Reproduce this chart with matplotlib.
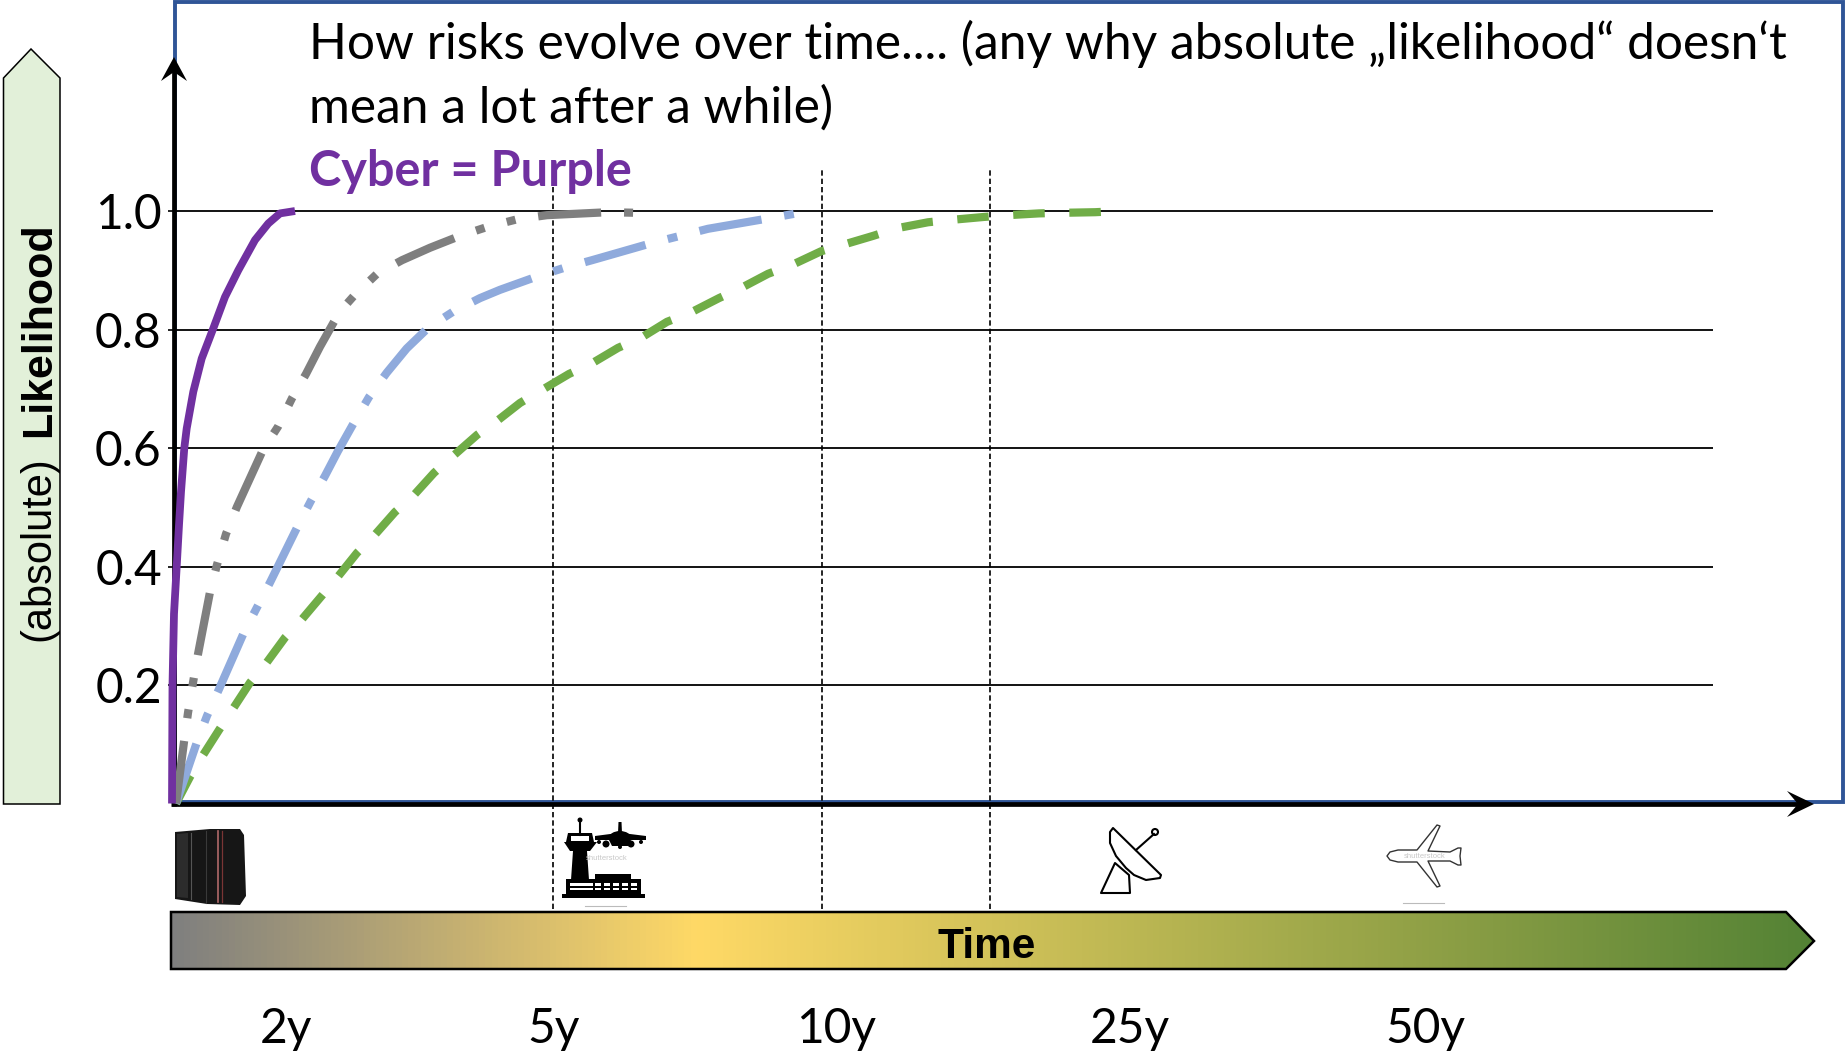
import numpy as np
import matplotlib
matplotlib.use('Agg')
import matplotlib.pyplot as plt
from matplotlib.colors import LinearSegmentedColormap
from matplotlib.patches import Polygon, Rectangle, Circle, Ellipse

## Curves: x is the position along the time axis, y the likelihood
purple_x = [-2, -1.5, 0, 2.7, 5, 7, 10.3, 12.7, 19.3, 27.7, 39.3, 51, 64.3, 81, 94.3, 106, 121]
purple_y = [0, .2, .32, .4, .47, .526, .6, .633, .695, .751, .802, .855, .900, .951, .979, .996, 1.0]

gray_x = [2, 10, 14, 19, 24, 36, 43, 52, 63, 89, 104, 118, 132, 146, 161, 170, 180, 203, 228, 256, 286, 313, 343, 373, 434, 463, 467]
gray_y = [0, .104, .153, .204, .252, .357, .403, .455, .501, .597, .636, .684, .725, .771, .816, .838, .857, .894, .917, .938, .958,
          .973, .986, .993, .998, .997, .997]

blue_x = [2, 23, 33, 45, 70, 83, 96, 124, 137, 151, 164, 180, 195, 212.7, 232.7, 254.3, 279, 306, 326, 364, 390, 418, 478, 506, 534, 596, 626, 633]
blue_y = [0, .104, .148, .193, .289, .331, .373, .469, .511, .553, .595, .643, .686, .727, .768, .803, .830, .853, .867, .890, .904,
          .917, .946, .958, .970, .988, .997, 1.0]

green_x = [2, 16, 28, 45, 59, 76, 91, 111, 126, 148, 163, 183, 199, 221, 238, 260, 278, 303, 324, 346, 368, 395, 418,
           444, 467, 493, 516, 545, 567, 594, 618, 647, 669, 699, 723, 754, 777, 810, 834, 865, 889, 921, 946]
green_y = [0, .045, .079, .124, .160, .204, .234, .280, .307, .351, .381, .423, .450, .492, .517, .558, .585, .622,
           .647, .676, .698, .725, .743, .769, .786, .813, .828, .853, .870, .894, .909, .932, .943, .958, .971,
           .981, .985, .990, .993, .996, .997, .998, 1.0]

y_ticks = [.2, .4, .6, .8, 1.0]
y_labels = ['0.2', '0.4', '0.6', '0.8', '1.0']
time_ticks = [112, 380, 662, 956, 1251]
time_labels = ['2y', '5y', '10y', '25y', '50y']
era_lines = [379, 647.5, 815.5]
era_tops = [1.044, 1.069, 1.069]

W, H = 1845, 1052
FONT = 'Lato'
fig = plt.figure(figsize=(W / 100, H / 100), dpi=100)

## Overlay in picture pixels for the frame, arrows, bar and icons
bg = fig.add_axes([0, 0, 1, 1], zorder=0)
bg.set_xlim(0, W)
bg.set_ylim(H, 0)
bg.axis('off')

## Main chart on top
ax = fig.add_axes([174 / W, (H - 803.5) / H, (1713 - 174) / W, 740.6 / H], zorder=1)
ax.patch.set_visible(False)
ax.set_xlim(0, 1539)
ax.set_ylim(0, 1.25)
for s in ax.spines.values():
    s.set_visible(False)
ax.set_yticks(y_ticks)
ax.set_yticklabels(y_labels, fontsize=34.5, fontfamily=FONT)
ax.tick_params(axis='y', length=4.3, width=1.2, pad=4.5)
ax.set_xticks(time_ticks)
ax.set_xticklabels(time_labels, fontsize=34.5, fontfamily=FONT)
ax.tick_params(axis='x', length=0, pad=146.5)
ax.grid(axis='y', color='black', lw=1.3)
ax.set_axisbelow(True)

for x, top in zip(era_lines, era_tops):
    ax.plot([x, x], [-.178, top], color='black', lw=1.2, dashes=(3.2, 1.8), clip_on=False, zorder=2)

ax.plot(green_x, green_y, color='#70AD47', lw=5.9, dashes=(3.85, 3.0), clip_on=False, zorder=3)
ax.plot(blue_x, blue_y, color='#8FAADC', lw=5.9, dashes=(7.7, 2.8, 1.2, 2.8), clip_on=False, zorder=3)
ax.plot(gray_x, gray_y, color='#7F7F7F', lw=5.9, dashes=(7.7, 2.8, 1.1, 2.8, 1.1, 2.8), clip_on=False, zorder=4)
ax.plot(purple_x, purple_y, color='#7030A0', lw=5.6, solid_capstyle='butt', clip_on=False, zorder=5)

## Frame and axis arrows
bg.add_patch(Rectangle((175, 2), 1668, 800, fill=False, ec='#2F5597', lw=2.8))
bg.plot([174, 174], [806, 70], color='black', lw=3.4, solid_capstyle='butt')
bg.plot([171, 1800], [804, 804], color='black', lw=3.4, solid_capstyle='butt')
bg.add_patch(Polygon([(174, 57), (187, 81), (174, 72), (161, 81)], fc='black', ec='none'))
bg.add_patch(Polygon([(1814, 804), (1787, 817), (1798, 804), (1787, 791)], fc='black', ec='none'))

## Likelihood arrow on the left
bg.add_patch(Polygon([(3.5, 804), (3.5, 78), (31, 49), (60, 78), (60, 804)], fc='#E2F0D9', ec='black', lw=1.1))
bg.text(49, 641, '(absolute)', rotation=90, rotation_mode='anchor', ha='left', va='baseline',
        fontsize=30, family='Liberation Sans')
bg.text(50, 437, 'Likelihood', rotation=90, rotation_mode='anchor', ha='left', va='baseline',
        fontsize=31, family='Liberation Sans', fontweight='bold')

## Time bar with gradient
bar = Polygon([(171, 912), (1786, 912), (1814, 941), (1786, 969), (171, 969)], fc='none', ec='black', lw=1.8, zorder=3)
cmap = LinearSegmentedColormap.from_list('time', [(0, '#7F7F7F'), (.32, '#FFD966'), (1, '#548235')])
im = bg.imshow(np.linspace(0, 1, 512)[None, :], cmap=cmap, extent=(171, 1814, 969, 912), aspect='auto', zorder=2)
bg.add_patch(bar)
im.set_clip_path(bar)
bg.set_xlim(0, W)
bg.set_ylim(H, 0)
bg.text(987, 958, 'Time', ha='center', va='baseline', fontsize=30.5, family='Liberation Sans', fontweight='bold', zorder=4)

## Title
bg.text(309, 59, 'How risks evolve over time.... (any why absolute \u201elikelihood\u201c doesn\u2018t',
        fontsize=35.7, family=FONT, va='baseline')
bg.text(309, 123, 'mean a lot after a while)', fontsize=35.7, family=FONT, va='baseline')
bg.text(309, 186, 'Cyber = Purple', fontsize=35, family=FONT, fontweight='bold', color='#7030A0', va='baseline')

## Icons
# mainframe
bg.add_patch(Polygon([(175, 832), (210, 829), (240, 829), (244, 835), (246, 896), (240, 905), (207, 904), (175, 899)], fc='#161616', ec='none'))
bg.add_patch(Polygon([(177, 834), (188, 833), (188, 898), (177, 897)], fc='#2c2c2c', ec='none'))
bg.plot([191, 191], [833, 899], color='#555555', lw=.8)
bg.plot([206, 206], [831, 903], color='#3a3a3a', lw=.8)
bg.plot([218, 218], [831, 902], color='#b06a6a', lw=1.2)
bg.plot([222, 222], [831, 902], color='#7a3535', lw=.9)

# tower
bg.plot([580, 580], [820, 835], color='black', lw=1.5)
bg.add_patch(Circle((580, 820), 2.5, fc='black'))
bg.add_patch(Polygon([(568, 833), (592, 833), (594, 842), (597, 842), (590, 851), (570, 851), (564, 842), (566, 842)], fc='black'))
bg.add_patch(Rectangle((571, 836), 18, 5, fc='white', ec='none'))
bg.add_patch(Polygon([(573, 851), (587, 851), (589, 880), (571, 880)], fc='black'))
bg.add_patch(Rectangle((566, 879), 75, 15, fc='black'))
bg.add_patch(Rectangle((595, 874), 36, 6, fc='black'))
bg.add_patch(Rectangle((562, 894), 83, 4, fc='black'))
bg.add_patch(Rectangle((570, 883), 23, 2.5, fc='white', ec='none'))
bg.add_patch(Rectangle((570, 888), 23, 1.5, fc='white', ec='none'))
for wx in [597, 606, 615, 624, 633]:
    bg.add_patch(Rectangle((wx - 2, 883), 6, 3, fc='white', ec='none'))
    bg.add_patch(Rectangle((wx - 2, 888), 6, 1.5, fc='white', ec='none'))
# plane next to the tower
bg.add_patch(Polygon([(618.5, 822), (621.5, 822), (622, 833), (646, 836), (646, 840), (631, 840), (628, 846), (612, 846), (609, 840), (595, 840), (595, 836), (618, 833)], fc='black'))
bg.add_patch(Ellipse((620, 838), 22, 14, fc='black'))
for ex, ey, er in [(606, 844, 3.5), (631, 844, 3.5), (599, 842, 2), (641, 842, 2), (620, 847, 2)]:
    bg.add_patch(Circle((ex, ey), er, fc='black'))
bg.text(607, 858.5, 'shutterstock', fontsize=5.5, color='#c8c8c8', ha='center', va='center', family='Liberation Sans', zorder=3)
bg.plot([585, 626], [906, 906], color='#bbbbbb', lw=.8)

# dish
bg.add_patch(Polygon([(1101, 893), (1115, 863), (1129, 875), (1130, 893)], fc='white', ec='black', lw=1.5, joinstyle='round'))
bg.plot([1136, 1154], [850, 834], color='black', lw=1.5)
bg.add_patch(Circle((1155, 832), 3, fc='white', ec='black', lw=1.5))
bg.add_patch(Polygon([(1113, 828), (1161, 875), (1160, 878), (1146, 880), (1134, 875), (1126, 868), (1116, 856), (1110, 843), (1110, 832)], fc='white', ec='black', lw=1.5, joinstyle='round'))

# airliner outline
bg.add_patch(Polygon([(1387, 856), (1390, 852), (1398, 850), (1417, 850), (1437, 825), (1440, 826), (1428, 851), (1450, 852), (1458, 848), (1461, 848), (1460, 856),
                      (1461, 865), (1458, 865), (1450, 861), (1428, 861), (1440, 886), (1437, 887), (1417, 862), (1398, 862), (1390, 860)],
                     fc='white', ec='#333333', lw=1, joinstyle='round'))
bg.text(1425, 856, 'shutterstock', fontsize=5.5, color='#c8c8c8', ha='center', va='center', family='Liberation Sans', zorder=3)
bg.plot([1403, 1444], [903, 903], color='#bbbbbb', lw=.8)

fig.savefig('out.png', dpi=100)
